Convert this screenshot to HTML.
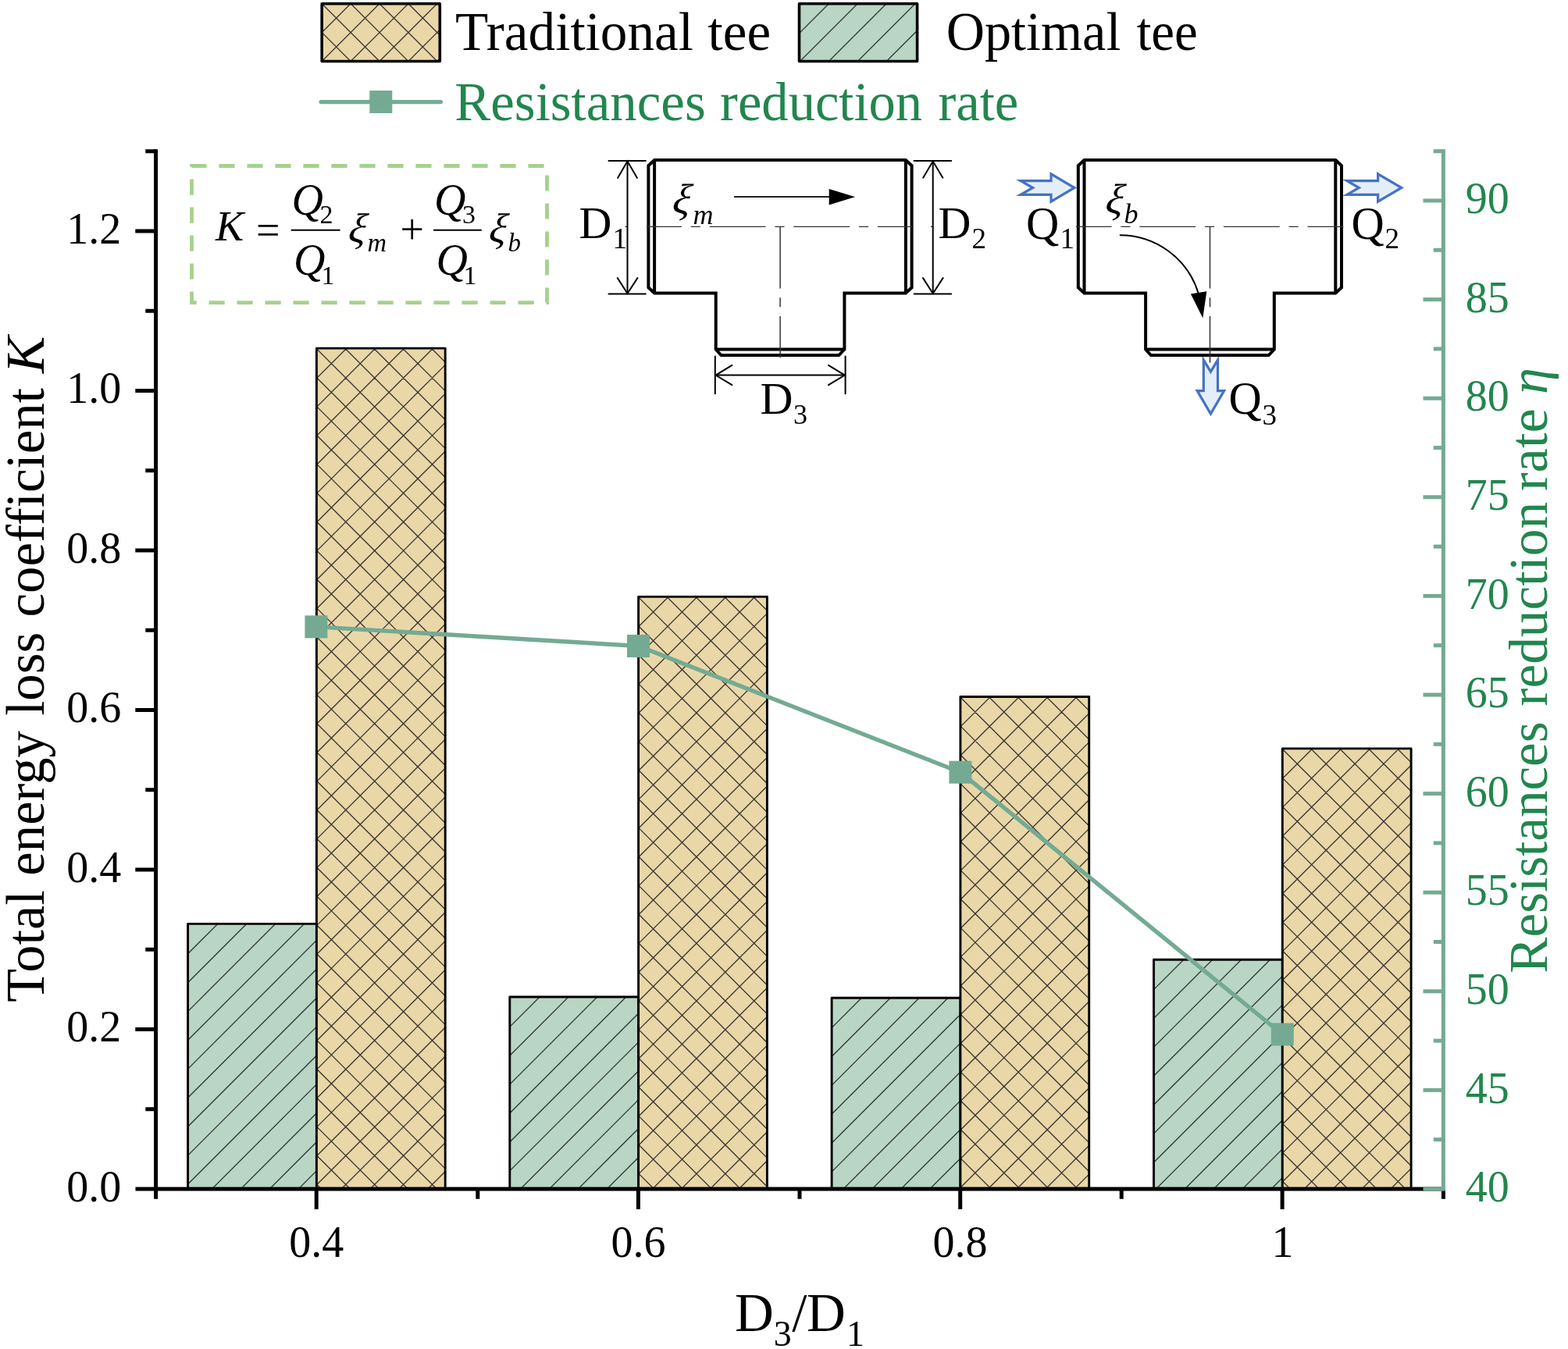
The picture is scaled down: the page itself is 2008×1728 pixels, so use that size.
<!DOCTYPE html>
<html lang="en"><head><meta charset="utf-8"><title>Total energy loss coefficient and resistances reduction rate</title>
<style>html,body{margin:0;padding:0;background:#fff}svg{display:block}text{font-family:"Liberation Serif", serif;}</style>
</head><body>
<svg width="2008" height="1728" viewBox="0 0 2008 1728">
<rect x="0" y="0" width="2008" height="1728" fill="#fff"/>
<g id="bars">
<clipPath id="c1"><rect x="240.60" y="1183.40" width="164.80" height="339.60"/></clipPath>
<rect x="240.60" y="1183.40" width="164.80" height="339.60" fill="#B9D6C5"/>
<path clip-path="url(#c1)" d="M238.60 1113.00L407.40 944.20M238.60 1149.90L407.40 981.10M238.60 1186.80L407.40 1018.00M238.60 1223.70L407.40 1054.90M238.60 1260.60L407.40 1091.80M238.60 1297.50L407.40 1128.70M238.60 1334.40L407.40 1165.60M238.60 1371.30L407.40 1202.50M238.60 1408.20L407.40 1239.40M238.60 1445.10L407.40 1276.30M238.60 1482.00L407.40 1313.20M238.60 1518.90L407.40 1350.10M238.60 1555.80L407.40 1387.00M238.60 1592.70L407.40 1423.90M238.60 1629.60L407.40 1460.80M238.60 1666.50L407.40 1497.70M238.60 1703.40L407.40 1534.60M238.60 1740.30L407.40 1571.50" fill="none" stroke="#0c0c10" stroke-opacity="0.78" stroke-width="1.35"/>
<rect x="240.60" y="1183.40" width="164.80" height="339.60" fill="none" stroke="#000" stroke-width="2.90" stroke-linejoin="round"/>
<clipPath id="c2"><rect x="405.40" y="446.10" width="164.80" height="1076.90"/></clipPath>
<rect x="405.40" y="446.10" width="164.80" height="1076.90" fill="#E9D7A8"/>
<path clip-path="url(#c2)" d="M403.40 375.90L572.20 207.10M403.40 412.80L572.20 244.00M403.40 449.70L572.20 280.90M403.40 486.60L572.20 317.80M403.40 523.50L572.20 354.70M403.40 560.40L572.20 391.60M403.40 597.30L572.20 428.50M403.40 634.20L572.20 465.40M403.40 671.10L572.20 502.30M403.40 708.00L572.20 539.20M403.40 744.90L572.20 576.10M403.40 781.80L572.20 613.00M403.40 818.70L572.20 649.90M403.40 855.60L572.20 686.80M403.40 892.50L572.20 723.70M403.40 929.40L572.20 760.60M403.40 966.30L572.20 797.50M403.40 1003.20L572.20 834.40M403.40 1040.10L572.20 871.30M403.40 1077.00L572.20 908.20M403.40 1113.90L572.20 945.10M403.40 1150.80L572.20 982.00M403.40 1187.70L572.20 1018.90M403.40 1224.60L572.20 1055.80M403.40 1261.50L572.20 1092.70M403.40 1298.40L572.20 1129.60M403.40 1335.30L572.20 1166.50M403.40 1372.20L572.20 1203.40M403.40 1409.10L572.20 1240.30M403.40 1446.00L572.20 1277.20M403.40 1482.90L572.20 1314.10M403.40 1519.80L572.20 1351.00M403.40 1556.70L572.20 1387.90M403.40 1593.60L572.20 1424.80M403.40 1630.50L572.20 1461.70M403.40 1667.40L572.20 1498.60M403.40 1704.30L572.20 1535.50M403.40 1741.20L572.20 1572.40M403.40 223.30L572.20 392.10M403.40 260.20L572.20 429.00M403.40 297.10L572.20 465.90M403.40 334.00L572.20 502.80M403.40 370.90L572.20 539.70M403.40 407.80L572.20 576.60M403.40 444.70L572.20 613.50M403.40 481.60L572.20 650.40M403.40 518.50L572.20 687.30M403.40 555.40L572.20 724.20M403.40 592.30L572.20 761.10M403.40 629.20L572.20 798.00M403.40 666.10L572.20 834.90M403.40 703.00L572.20 871.80M403.40 739.90L572.20 908.70M403.40 776.80L572.20 945.60M403.40 813.70L572.20 982.50M403.40 850.60L572.20 1019.40M403.40 887.50L572.20 1056.30M403.40 924.40L572.20 1093.20M403.40 961.30L572.20 1130.10M403.40 998.20L572.20 1167.00M403.40 1035.10L572.20 1203.90M403.40 1072.00L572.20 1240.80M403.40 1108.90L572.20 1277.70M403.40 1145.80L572.20 1314.60M403.40 1182.70L572.20 1351.50M403.40 1219.60L572.20 1388.40M403.40 1256.50L572.20 1425.30M403.40 1293.40L572.20 1462.20M403.40 1330.30L572.20 1499.10M403.40 1367.20L572.20 1536.00M403.40 1404.10L572.20 1572.90M403.40 1441.00L572.20 1609.80M403.40 1477.90L572.20 1646.70M403.40 1514.80L572.20 1683.60M403.40 1551.70L572.20 1720.50M403.40 1588.60L572.20 1757.40" fill="none" stroke="#0c0c10" stroke-opacity="0.78" stroke-width="1.35"/>
<rect x="405.40" y="446.10" width="164.80" height="1076.90" fill="none" stroke="#000" stroke-width="2.90" stroke-linejoin="round"/>
<clipPath id="c3"><rect x="652.80" y="1277.00" width="164.80" height="246.00"/></clipPath>
<rect x="652.80" y="1277.00" width="164.80" height="246.00" fill="#B9D6C5"/>
<path clip-path="url(#c3)" d="M650.80 1206.60L819.60 1037.80M650.80 1243.50L819.60 1074.70M650.80 1280.40L819.60 1111.60M650.80 1317.30L819.60 1148.50M650.80 1354.20L819.60 1185.40M650.80 1391.10L819.60 1222.30M650.80 1428.00L819.60 1259.20M650.80 1464.90L819.60 1296.10M650.80 1501.80L819.60 1333.00M650.80 1538.70L819.60 1369.90M650.80 1575.60L819.60 1406.80M650.80 1612.50L819.60 1443.70M650.80 1649.40L819.60 1480.60M650.80 1686.30L819.60 1517.50M650.80 1723.20L819.60 1554.40M650.80 1760.10L819.60 1591.30" fill="none" stroke="#0c0c10" stroke-opacity="0.78" stroke-width="1.35"/>
<rect x="652.80" y="1277.00" width="164.80" height="246.00" fill="none" stroke="#000" stroke-width="2.90" stroke-linejoin="round"/>
<clipPath id="c4"><rect x="817.60" y="764.40" width="164.80" height="758.60"/></clipPath>
<rect x="817.60" y="764.40" width="164.80" height="758.60" fill="#E9D7A8"/>
<path clip-path="url(#c4)" d="M815.60 694.20L984.40 525.40M815.60 731.10L984.40 562.30M815.60 768.00L984.40 599.20M815.60 804.90L984.40 636.10M815.60 841.80L984.40 673.00M815.60 878.70L984.40 709.90M815.60 915.60L984.40 746.80M815.60 952.50L984.40 783.70M815.60 989.40L984.40 820.60M815.60 1026.30L984.40 857.50M815.60 1063.20L984.40 894.40M815.60 1100.10L984.40 931.30M815.60 1137.00L984.40 968.20M815.60 1173.90L984.40 1005.10M815.60 1210.80L984.40 1042.00M815.60 1247.70L984.40 1078.90M815.60 1284.60L984.40 1115.80M815.60 1321.50L984.40 1152.70M815.60 1358.40L984.40 1189.60M815.60 1395.30L984.40 1226.50M815.60 1432.20L984.40 1263.40M815.60 1469.10L984.40 1300.30M815.60 1506.00L984.40 1337.20M815.60 1542.90L984.40 1374.10M815.60 1579.80L984.40 1411.00M815.60 1616.70L984.40 1447.90M815.60 1653.60L984.40 1484.80M815.60 1690.50L984.40 1521.70M815.60 1727.40L984.40 1558.60M815.60 541.60L984.40 710.40M815.60 578.50L984.40 747.30M815.60 615.40L984.40 784.20M815.60 652.30L984.40 821.10M815.60 689.20L984.40 858.00M815.60 726.10L984.40 894.90M815.60 763.00L984.40 931.80M815.60 799.90L984.40 968.70M815.60 836.80L984.40 1005.60M815.60 873.70L984.40 1042.50M815.60 910.60L984.40 1079.40M815.60 947.50L984.40 1116.30M815.60 984.40L984.40 1153.20M815.60 1021.30L984.40 1190.10M815.60 1058.20L984.40 1227.00M815.60 1095.10L984.40 1263.90M815.60 1132.00L984.40 1300.80M815.60 1168.90L984.40 1337.70M815.60 1205.80L984.40 1374.60M815.60 1242.70L984.40 1411.50M815.60 1279.60L984.40 1448.40M815.60 1316.50L984.40 1485.30M815.60 1353.40L984.40 1522.20M815.60 1390.30L984.40 1559.10M815.60 1427.20L984.40 1596.00M815.60 1464.10L984.40 1632.90M815.60 1501.00L984.40 1669.80M815.60 1537.90L984.40 1706.70M815.60 1574.80L984.40 1743.60" fill="none" stroke="#0c0c10" stroke-opacity="0.78" stroke-width="1.35"/>
<rect x="817.60" y="764.40" width="164.80" height="758.60" fill="none" stroke="#000" stroke-width="2.90" stroke-linejoin="round"/>
<clipPath id="c5"><rect x="1065.10" y="1278.20" width="164.80" height="244.80"/></clipPath>
<rect x="1065.10" y="1278.20" width="164.80" height="244.80" fill="#B9D6C5"/>
<path clip-path="url(#c5)" d="M1063.10 1207.80L1231.90 1039.00M1063.10 1244.70L1231.90 1075.90M1063.10 1281.60L1231.90 1112.80M1063.10 1318.50L1231.90 1149.70M1063.10 1355.40L1231.90 1186.60M1063.10 1392.30L1231.90 1223.50M1063.10 1429.20L1231.90 1260.40M1063.10 1466.10L1231.90 1297.30M1063.10 1503.00L1231.90 1334.20M1063.10 1539.90L1231.90 1371.10M1063.10 1576.80L1231.90 1408.00M1063.10 1613.70L1231.90 1444.90M1063.10 1650.60L1231.90 1481.80M1063.10 1687.50L1231.90 1518.70M1063.10 1724.40L1231.90 1555.60M1063.10 1761.30L1231.90 1592.50" fill="none" stroke="#0c0c10" stroke-opacity="0.78" stroke-width="1.35"/>
<rect x="1065.10" y="1278.20" width="164.80" height="244.80" fill="none" stroke="#000" stroke-width="2.90" stroke-linejoin="round"/>
<clipPath id="c6"><rect x="1229.90" y="892.50" width="164.80" height="630.50"/></clipPath>
<rect x="1229.90" y="892.50" width="164.80" height="630.50" fill="#E9D7A8"/>
<path clip-path="url(#c6)" d="M1227.90 822.30L1396.70 653.50M1227.90 859.20L1396.70 690.40M1227.90 896.10L1396.70 727.30M1227.90 933.00L1396.70 764.20M1227.90 969.90L1396.70 801.10M1227.90 1006.80L1396.70 838.00M1227.90 1043.70L1396.70 874.90M1227.90 1080.60L1396.70 911.80M1227.90 1117.50L1396.70 948.70M1227.90 1154.40L1396.70 985.60M1227.90 1191.30L1396.70 1022.50M1227.90 1228.20L1396.70 1059.40M1227.90 1265.10L1396.70 1096.30M1227.90 1302.00L1396.70 1133.20M1227.90 1338.90L1396.70 1170.10M1227.90 1375.80L1396.70 1207.00M1227.90 1412.70L1396.70 1243.90M1227.90 1449.60L1396.70 1280.80M1227.90 1486.50L1396.70 1317.70M1227.90 1523.40L1396.70 1354.60M1227.90 1560.30L1396.70 1391.50M1227.90 1597.20L1396.70 1428.40M1227.90 1634.10L1396.70 1465.30M1227.90 1671.00L1396.70 1502.20M1227.90 1707.90L1396.70 1539.10M1227.90 1744.80L1396.70 1576.00M1227.90 669.70L1396.70 838.50M1227.90 706.60L1396.70 875.40M1227.90 743.50L1396.70 912.30M1227.90 780.40L1396.70 949.20M1227.90 817.30L1396.70 986.10M1227.90 854.20L1396.70 1023.00M1227.90 891.10L1396.70 1059.90M1227.90 928.00L1396.70 1096.80M1227.90 964.90L1396.70 1133.70M1227.90 1001.80L1396.70 1170.60M1227.90 1038.70L1396.70 1207.50M1227.90 1075.60L1396.70 1244.40M1227.90 1112.50L1396.70 1281.30M1227.90 1149.40L1396.70 1318.20M1227.90 1186.30L1396.70 1355.10M1227.90 1223.20L1396.70 1392.00M1227.90 1260.10L1396.70 1428.90M1227.90 1297.00L1396.70 1465.80M1227.90 1333.90L1396.70 1502.70M1227.90 1370.80L1396.70 1539.60M1227.90 1407.70L1396.70 1576.50M1227.90 1444.60L1396.70 1613.40M1227.90 1481.50L1396.70 1650.30M1227.90 1518.40L1396.70 1687.20M1227.90 1555.30L1396.70 1724.10M1227.90 1592.20L1396.70 1761.00" fill="none" stroke="#0c0c10" stroke-opacity="0.78" stroke-width="1.35"/>
<rect x="1229.90" y="892.50" width="164.80" height="630.50" fill="none" stroke="#000" stroke-width="2.90" stroke-linejoin="round"/>
<clipPath id="c7"><rect x="1477.50" y="1229.30" width="164.80" height="293.70"/></clipPath>
<rect x="1477.50" y="1229.30" width="164.80" height="293.70" fill="#B9D6C5"/>
<path clip-path="url(#c7)" d="M1475.50 1158.90L1644.30 990.10M1475.50 1195.80L1644.30 1027.00M1475.50 1232.70L1644.30 1063.90M1475.50 1269.60L1644.30 1100.80M1475.50 1306.50L1644.30 1137.70M1475.50 1343.40L1644.30 1174.60M1475.50 1380.30L1644.30 1211.50M1475.50 1417.20L1644.30 1248.40M1475.50 1454.10L1644.30 1285.30M1475.50 1491.00L1644.30 1322.20M1475.50 1527.90L1644.30 1359.10M1475.50 1564.80L1644.30 1396.00M1475.50 1601.70L1644.30 1432.90M1475.50 1638.60L1644.30 1469.80M1475.50 1675.50L1644.30 1506.70M1475.50 1712.40L1644.30 1543.60M1475.50 1749.30L1644.30 1580.50" fill="none" stroke="#0c0c10" stroke-opacity="0.78" stroke-width="1.35"/>
<rect x="1477.50" y="1229.30" width="164.80" height="293.70" fill="none" stroke="#000" stroke-width="2.90" stroke-linejoin="round"/>
<clipPath id="c8"><rect x="1642.30" y="958.90" width="164.80" height="564.10"/></clipPath>
<rect x="1642.30" y="958.90" width="164.80" height="564.10" fill="#E9D7A8"/>
<path clip-path="url(#c8)" d="M1640.30 888.70L1809.10 719.90M1640.30 925.60L1809.10 756.80M1640.30 962.50L1809.10 793.70M1640.30 999.40L1809.10 830.60M1640.30 1036.30L1809.10 867.50M1640.30 1073.20L1809.10 904.40M1640.30 1110.10L1809.10 941.30M1640.30 1147.00L1809.10 978.20M1640.30 1183.90L1809.10 1015.10M1640.30 1220.80L1809.10 1052.00M1640.30 1257.70L1809.10 1088.90M1640.30 1294.60L1809.10 1125.80M1640.30 1331.50L1809.10 1162.70M1640.30 1368.40L1809.10 1199.60M1640.30 1405.30L1809.10 1236.50M1640.30 1442.20L1809.10 1273.40M1640.30 1479.10L1809.10 1310.30M1640.30 1516.00L1809.10 1347.20M1640.30 1552.90L1809.10 1384.10M1640.30 1589.80L1809.10 1421.00M1640.30 1626.70L1809.10 1457.90M1640.30 1663.60L1809.10 1494.80M1640.30 1700.50L1809.10 1531.70M1640.30 1737.40L1809.10 1568.60M1640.30 736.10L1809.10 904.90M1640.30 773.00L1809.10 941.80M1640.30 809.90L1809.10 978.70M1640.30 846.80L1809.10 1015.60M1640.30 883.70L1809.10 1052.50M1640.30 920.60L1809.10 1089.40M1640.30 957.50L1809.10 1126.30M1640.30 994.40L1809.10 1163.20M1640.30 1031.30L1809.10 1200.10M1640.30 1068.20L1809.10 1237.00M1640.30 1105.10L1809.10 1273.90M1640.30 1142.00L1809.10 1310.80M1640.30 1178.90L1809.10 1347.70M1640.30 1215.80L1809.10 1384.60M1640.30 1252.70L1809.10 1421.50M1640.30 1289.60L1809.10 1458.40M1640.30 1326.50L1809.10 1495.30M1640.30 1363.40L1809.10 1532.20M1640.30 1400.30L1809.10 1569.10M1640.30 1437.20L1809.10 1606.00M1640.30 1474.10L1809.10 1642.90M1640.30 1511.00L1809.10 1679.80M1640.30 1547.90L1809.10 1716.70M1640.30 1584.80L1809.10 1753.60" fill="none" stroke="#0c0c10" stroke-opacity="0.78" stroke-width="1.35"/>
<rect x="1642.30" y="958.90" width="164.80" height="564.10" fill="none" stroke="#000" stroke-width="2.90" stroke-linejoin="round"/>
</g>
<g id="axes" stroke="#000" stroke-width="5" fill="none" stroke-linecap="butt">
<path d="M199.60 191.20V1525.50"/>
<path d="M173.50 1523.00H1848.40"/>
<path d="M186.30 1420.75H199.60"/>
<path d="M173.30 1318.50H199.60"/>
<path d="M186.30 1216.25H199.60"/>
<path d="M173.30 1114.00H199.60"/>
<path d="M186.30 1011.75H199.60"/>
<path d="M173.30 909.50H199.60"/>
<path d="M186.30 807.25H199.60"/>
<path d="M173.30 705.00H199.60"/>
<path d="M186.30 602.75H199.60"/>
<path d="M173.30 500.50H199.60"/>
<path d="M186.30 398.25H199.60"/>
<path d="M173.30 296.00H199.60"/>
<path d="M186.30 193.75H199.60"/>
<path d="M199.60 1523.00V1535.80"/>
<path d="M405.20 1523.00V1549.00"/>
<path d="M611.80 1523.00V1535.80"/>
<path d="M817.40 1523.00V1549.00"/>
<path d="M1024.00 1523.00V1535.80"/>
<path d="M1229.70 1523.00V1549.00"/>
<path d="M1436.20 1523.00V1535.80"/>
<path d="M1642.10 1523.00V1549.00"/>
<path d="M1848.40 1523.00V1535.80"/>
</g>
<g id="raxis" stroke="#74AA93" stroke-width="5" fill="none">
<path d="M1848.40 191.20V1525.50"/>
<path d="M1822.50 1523.00H1848.40"/>
<path d="M1835.80 1459.70H1848.40"/>
<path d="M1822.50 1396.40H1848.40"/>
<path d="M1835.80 1333.10H1848.40"/>
<path d="M1822.50 1269.80H1848.40"/>
<path d="M1835.80 1206.50H1848.40"/>
<path d="M1822.50 1143.20H1848.40"/>
<path d="M1835.80 1079.90H1848.40"/>
<path d="M1822.50 1016.60H1848.40"/>
<path d="M1835.80 953.30H1848.40"/>
<path d="M1822.50 890.00H1848.40"/>
<path d="M1835.80 826.70H1848.40"/>
<path d="M1822.50 763.40H1848.40"/>
<path d="M1835.80 700.10H1848.40"/>
<path d="M1822.50 636.80H1848.40"/>
<path d="M1835.80 573.50H1848.40"/>
<path d="M1822.50 510.20H1848.40"/>
<path d="M1835.80 446.90H1848.40"/>
<path d="M1822.50 383.60H1848.40"/>
<path d="M1835.80 320.30H1848.40"/>
<path d="M1822.50 257.00H1848.40"/>
<path d="M1835.80 193.70H1848.40"/>
</g>
<g id="ylabels" font-size="56" text-anchor="end" fill="#000">
<text x="155.3" y="1538.8">0.0</text>
<text x="155.3" y="1334.3">0.2</text>
<text x="155.3" y="1129.8">0.4</text>
<text x="155.3" y="925.3">0.6</text>
<text x="155.3" y="720.8">0.8</text>
<text x="155.3" y="516.3">1.0</text>
<text x="155.3" y="311.8">1.2</text>
</g>
<g id="rlabels" font-size="56" text-anchor="start" fill="#22864E">
<text x="1876.7" y="1539.1">40</text>
<text x="1876.7" y="1412.5">45</text>
<text x="1876.7" y="1285.9">50</text>
<text x="1876.7" y="1159.3">55</text>
<text x="1876.7" y="1032.7">60</text>
<text x="1876.7" y="906.1">65</text>
<text x="1876.7" y="779.5">70</text>
<text x="1876.7" y="652.9">75</text>
<text x="1876.7" y="526.3">80</text>
<text x="1876.7" y="399.7">85</text>
<text x="1876.7" y="273.1">90</text>
</g>
<g id="xlabels" font-size="56" text-anchor="middle" fill="#000">
<text x="405.2" y="1609.9">0.4</text>
<text x="817.4" y="1609.9">0.6</text>
<text x="1229.4" y="1609.9">0.8</text>
<text x="1642.6" y="1609.9">1</text>
</g>
<g id="ytitle">
<text transform="translate(55.60 0) rotate(-90)" x="-1283.81" y="0" font-size="70" fill="#000" textLength="143.56" lengthAdjust="spacingAndGlyphs">Total</text>
<text transform="translate(55.60 0) rotate(-90)" x="-1121.66" y="0" font-size="70" fill="#000" textLength="185.56" lengthAdjust="spacingAndGlyphs">energy</text>
<text transform="translate(55.60 0) rotate(-90)" x="-916.78" y="0" font-size="70" fill="#000" textLength="106.98" lengthAdjust="spacingAndGlyphs">loss</text>
<text transform="translate(55.60 0) rotate(-90)" x="-790.57" y="0" font-size="70" fill="#000" textLength="293.53" lengthAdjust="spacingAndGlyphs">coefficient</text>
<text transform="translate(55.60 0) rotate(-90)" x="-478.18" y="0" font-size="70" fill="#000" font-style="italic" textLength="47.51" lengthAdjust="spacingAndGlyphs">K</text>
</g>
<g id="rtitle">
<text transform="translate(1981.00 0) rotate(-90)" x="-1246.67" y="0" font-size="70" fill="#22864E" textLength="322.29" lengthAdjust="spacingAndGlyphs">Resistances</text>
<text transform="translate(1981.00 0) rotate(-90)" x="-904.69" y="0" font-size="70" fill="#22864E" textLength="261.88" lengthAdjust="spacingAndGlyphs">reduction</text>
<text transform="translate(1981.00 0) rotate(-90)" x="-628.91" y="0" font-size="70" fill="#22864E" textLength="105.69" lengthAdjust="spacingAndGlyphs">rate</text>
<text transform="translate(1981.00 0) rotate(-90)" x="-504.95" y="0" font-size="70" fill="#22864E" font-style="italic" textLength="33.92" lengthAdjust="spacingAndGlyphs">η</text>
</g>
<g id="xtitle" fill="#000">
<text x="941" y="1704.6" font-size="69">D</text>
<text x="990.8" y="1724.3" font-size="46">3</text>
<text x="1014.3" y="1704.6" font-size="69">/</text>
<text x="1033" y="1704.6" font-size="69">D</text>
<text x="1084" y="1724.3" font-size="46">1</text>
</g>
<g id="series">
<polyline points="404.9,802.9 817.5,827.5 1229.9,989.2 1642.3,1325.0" fill="none" stroke="#74AA93" stroke-width="5.4" stroke-linejoin="round"/>
<rect x="390.4" y="788.4" width="29" height="29" fill="#74AA93"/>
<rect x="803.0" y="813.0" width="29" height="29" fill="#74AA93"/>
<rect x="1215.4" y="974.7" width="29" height="29" fill="#74AA93"/>
<rect x="1627.8" y="1310.5" width="29" height="29" fill="#74AA93"/>
</g>
<g id="legend">
<clipPath id="c9"><rect x="412.20" y="4.70" width="151.10" height="73.80"/></clipPath>
<rect x="412.20" y="4.70" width="151.10" height="73.80" fill="#E9D7A8"/>
<path clip-path="url(#c9)" d="M410.20 -67.10L565.30 -222.20M410.20 -30.20L565.30 -185.30M410.20 6.70L565.30 -148.40M410.20 43.60L565.30 -111.50M410.20 80.50L565.30 -74.60M410.20 117.40L565.30 -37.70M410.20 154.30L565.30 -0.80M410.20 191.20L565.30 36.10M410.20 228.10L565.30 73.00M410.20 265.00L565.30 109.90M410.20 301.90L565.30 146.80M410.20 -218.70L565.30 -63.60M410.20 -181.80L565.30 -26.70M410.20 -144.90L565.30 10.20M410.20 -108.00L565.30 47.10M410.20 -71.10L565.30 84.00M410.20 -34.20L565.30 120.90M410.20 2.70L565.30 157.80M410.20 39.60L565.30 194.70M410.20 76.50L565.30 231.60M410.20 113.40L565.30 268.50M410.20 150.30L565.30 305.40" fill="none" stroke="#0c0c10" stroke-opacity="0.78" stroke-width="1.35"/>
<rect x="412.20" y="4.70" width="151.10" height="73.80" fill="none" stroke="#000" stroke-width="3.60" stroke-linejoin="round"/>
<clipPath id="c10"><rect x="1023.50" y="4.70" width="151.10" height="73.80"/></clipPath>
<rect x="1023.50" y="4.70" width="151.10" height="73.80" fill="#B9D6C5"/>
<path clip-path="url(#c10)" d="M1021.50 -66.10L1176.60 -221.20M1021.50 -29.20L1176.60 -184.30M1021.50 7.70L1176.60 -147.40M1021.50 44.60L1176.60 -110.50M1021.50 81.50L1176.60 -73.60M1021.50 118.40L1176.60 -36.70M1021.50 155.30L1176.60 0.20M1021.50 192.20L1176.60 37.10M1021.50 229.10L1176.60 74.00M1021.50 266.00L1176.60 110.90M1021.50 302.90L1176.60 147.80" fill="none" stroke="#0c0c10" stroke-opacity="0.78" stroke-width="1.35"/>
<rect x="1023.50" y="4.70" width="151.10" height="73.80" fill="none" stroke="#000" stroke-width="3.60" stroke-linejoin="round"/>
<text x="582.90" y="64.30" font-size="69" fill="#000" textLength="305.18" lengthAdjust="spacingAndGlyphs">Traditional</text>
<text x="906.60" y="64.30" font-size="69" fill="#000" textLength="80.43" lengthAdjust="spacingAndGlyphs">tee</text>
<text x="1211.72" y="64.30" font-size="69" fill="#000" textLength="223.64" lengthAdjust="spacingAndGlyphs">Optimal</text>
<text x="1455.70" y="64.30" font-size="69" fill="#000" textLength="78.08" lengthAdjust="spacingAndGlyphs">tee</text>
<text x="582.30" y="153.70" font-size="69" fill="#22864E" textLength="321.45" lengthAdjust="spacingAndGlyphs">Resistances</text>
<text x="922.11" y="153.70" font-size="69" fill="#22864E" textLength="258.89" lengthAdjust="spacingAndGlyphs">reduction</text>
<text x="1201.41" y="153.70" font-size="69" fill="#22864E" textLength="102.81" lengthAdjust="spacingAndGlyphs">rate</text>
<path d="M411.1 130.6H564.4" stroke="#74AA93" stroke-width="5.3" stroke-linecap="round" fill="none"/>
<rect x="473.3" y="116" width="29" height="29" fill="#74AA93"/>
</g>
<g id="formula">
<path d="M245.5 212.5H700.5V387.6H245.5Z" fill="none" stroke="#A6D18D" stroke-width="4.8" stroke-dasharray="20.2 15.8" stroke-dashoffset="1.1"/>
<g font-style="italic" fill="#000">
<text x="276" y="308" font-size="54">K</text>
<text x="328" y="312.5" font-size="54" font-style="normal">=</text>
<text x="373.5" y="274.5" font-size="56">Q</text>
<text x="409.5" y="286.3" font-size="34" font-style="normal">2</text>
<text x="376" y="352" font-size="56">Q</text>
<text x="411.5" y="363.6" font-size="34" font-style="normal">1</text>
<text transform="translate(444.5 309.5) skewX(-9)" font-size="53">ξ</text>
<text x="470.5" y="321.5" font-size="34">m</text>
<text x="512.5" y="312.3" font-size="54" font-style="normal">+</text>
<text x="556" y="274.5" font-size="56">Q</text>
<text x="592" y="286.3" font-size="34" font-style="normal">3</text>
<text x="558.5" y="352" font-size="56">Q</text>
<text x="593.5" y="363.6" font-size="34" font-style="normal">1</text>
<text transform="translate(624.5 309.5) skewX(-9)" font-size="53">ξ</text>
<text x="650.5" y="321.5" font-size="33">b</text>
</g>
<path d="M372.7 294.8H435.6M555.1 294.8H616.8" stroke="#000" stroke-width="2" fill="none"/>
</g>
<g id="tee1">
<g transform="translate(0.0 0)"><path d="M838.1 205H1159.9L1167.6 212.2V368.3L1159.9 375.5H1081.4V447.5L1074.3 455H923.5L916.7 447.5V375.5H838.1L830.4 368.3V212.2Z" fill="#fff" stroke="#000" stroke-width="4" stroke-linejoin="miter"/><path d="M838.1 205V375.5M1159.9 205V375.5M916.7 447.5H1081.4" fill="none" stroke="#000" stroke-width="4"/><path d="M827.8 290.4H1169.6" fill="none" stroke="#333" stroke-width="1.4" stroke-dasharray="71.8 11.8 12.2 11.8" stroke-dashoffset="26.7"/><path d="M999.1 290.4V458.2" fill="none" stroke="#333" stroke-width="1.5" stroke-dasharray="79 11.8 12 11.8"/></g>
<path d="M800.6 290.4H803.5M1192 290.4H1195" fill="none" stroke="#333" stroke-width="1.4"/>
<g fill="none" stroke="#000" stroke-width="2" stroke-linecap="round" stroke-linejoin="miter">
<path d="M779.5 206H826.8M779.5 376.5H826.8M803.5 206V376.5"/>
<path d="M791.2 227.8L803.5 206.6L815.8 227.8M790.8 356.1L803.5 376L816.4 356.1"/>
<path d="M1170.6 206H1218.2M1170.6 376.5H1218.2M1194.7 206V376.5"/>
<path d="M1182.3 227.6L1194.7 206.6L1207.2 227.6M1182 356.1L1194.7 376L1207.6 356.1"/>
<path d="M915.8 456.5V504.2M1082.6 456.5V504.2M916 480.6H1082.4"/>
<path d="M937.4 467.9L916.6 480.6L937.4 493.1M1061 467.9L1081.8 480.6L1061 493.1"/>
</g>
<path d="M940 252.2H1063" fill="none" stroke="#000" stroke-width="1.8"/>
<path d="M1061.7 241.9L1095.1 252.2L1061.7 262.4Z" fill="#000"/>
<text x="741.5" y="304.8" font-size="58" fill="#000">D</text><text x="784.5" y="318.1" font-size="37" fill="#000">1</text>
<text x="1201.5" y="304.8" font-size="58" fill="#000">D</text><text x="1244.5" y="318.1" font-size="37" fill="#000">2</text>
<text x="973.5" y="529.8" font-size="58" fill="#000">D</text><text x="1016" y="543.3" font-size="36" fill="#000">3</text>
<text transform="translate(859.5 272.7) skewX(-9)" font-size="54" font-style="italic" fill="#000">ξ</text>
<text x="887.5" y="286.5" font-size="36" font-style="italic" fill="#000">m</text>
</g>
<g id="tee2">
<path d="M1307.1 231.7L1346.0 231.7L1346.0 222.8L1375.9 240.5L1346.0 258.2L1346.0 249.3L1307.1 249.3L1322.6 240.5Z" fill="#E4EEF9" stroke="#4472C4" stroke-width="3.2" stroke-linejoin="miter" stroke-miterlimit="10"/>
<path d="M1559.5 461.1L1559.5 500.6L1567.6 500.6L1550.4 530.0L1533.2 500.6L1541.3 500.6L1541.3 461.1L1550.4 476.2Z" fill="#E4EEF9" stroke="#4472C4" stroke-width="3.2" stroke-linejoin="miter" stroke-miterlimit="10"/>
<g transform="translate(550.4 0)"><path d="M838.1 205H1159.9L1167.6 212.2V368.3L1159.9 375.5H1081.4V447.5L1074.3 455H923.5L916.7 447.5V375.5H838.1L830.4 368.3V212.2Z" fill="#fff" stroke="#000" stroke-width="4" stroke-linejoin="miter"/><path d="M838.1 205V375.5M1159.9 205V375.5M916.7 447.5H1081.4" fill="none" stroke="#000" stroke-width="4"/><path d="M827.4 290.4H1170.0" fill="none" stroke="#333" stroke-width="1.4" stroke-dasharray="71.8 11.8 12.2 11.8" stroke-dashoffset="26.1"/><path d="M999.1 290.4V464.7" fill="none" stroke="#333" stroke-width="1.5" stroke-dasharray="79 11.8 12 11.8"/></g>
<path d="M1725.0 231.7L1764.6 231.7L1764.6 222.8L1794.8 240.5L1764.6 258.2L1764.6 249.3L1725.0 249.3L1740.3 240.5Z" fill="#E4EEF9" stroke="#4472C4" stroke-width="3.2" stroke-linejoin="miter" stroke-miterlimit="10"/>
<path d="M1433.8 301.2A105 105 0 0 1 1534.9 376.5" fill="none" stroke="#000" stroke-width="1.9"/>
<path d="M1524.9 376.4L1545.3 373.2L1540.3 407.6Z" fill="#000"/>
<text x="1314" y="305.7" font-size="58.5" fill="#000">Q</text><text x="1357.5" y="318.1" font-size="37" fill="#000">1</text>
<text x="1730.5" y="305.7" font-size="58.5" fill="#000">Q</text><text x="1773.5" y="318.1" font-size="37" fill="#000">2</text>
<text x="1573.5" y="530.2" font-size="58.5" fill="#000">Q</text><text x="1616.5" y="543.8" font-size="37" fill="#000">3</text>
<text transform="translate(1414 272.7) skewX(-9)" font-size="54" font-style="italic" fill="#000">ξ</text>
<text x="1439.5" y="286" font-size="36" font-style="italic" fill="#000">b</text>
</g>
</svg>
</body></html>
